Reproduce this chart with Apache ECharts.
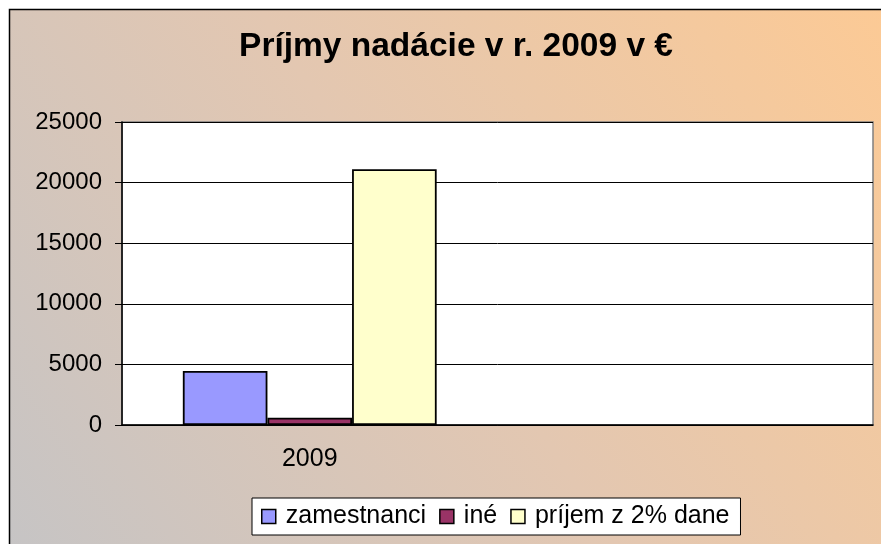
<!DOCTYPE html>
<html><head><meta charset="utf-8">
<script src="https://cdn.jsdelivr.net/npm/echarts@6/dist/echarts.min.js"></script>
<style>html,body{margin:0;padding:0;background:#fff}#c{width:881px;height:544px}</style>
</head><body><div id="c"></div>
<script>
var categories = ["2009", ""];
var seriesNames = ["zamestnanci", "iné", "príjem z 2% dane"];
var zamestnanci = [4450, null];
var ine = [600, null];
var prijem = [21100, null];
var yTicks = [0, 5000, 10000, 15000, 20000, 25000];
var colors = ["#9999FF", "#993366", "#FFFFCC"];

var chart = echarts.init(document.getElementById('c'), null, {renderer: 'canvas'});
var font = '"Liberation Sans", Arial, sans-serif';
var values = [zamestnanci, ine, prijem];
chart.setOption({
  animation: false,
  backgroundColor: '#ffffff',
  graphic: [{
    type: 'rect', z: -10, silent: true,
    shape: {x: 9.5, y: 9.5, width: 900, height: 600},
    style: {
      fill: new echarts.graphic.LinearGradient(1, 0, 0, 1, [
        {offset: 0, color: '#FDCA94'},
        {offset: 0.5, color: '#E3C7B1'},
        {offset: 1, color: '#C4C4C6'}
      ]),
      stroke: '#000', lineWidth: 1.5
    }
  }],
  title: {
    text: 'Príjmy nadácie v r. 2009 v €',
    left: 451, textAlign: 'center', top: 25,
    textStyle: {fontFamily: font, fontSize: 33.5, fontWeight: 'bold', color: '#000'}
  },
  grid: {left: 122, top: 122, right: 8, bottom: 119, show: true, backgroundColor: '#fff', borderColor: '#808080', borderWidth: 1.5},
  legend: {
    left: 252, top: 498,
    itemWidth: 14, itemHeight: 14, itemGap: 13,
    padding: [6, 11, 6, 9],
    backgroundColor: '#fff', borderColor: '#000', borderWidth: 1,
    icon: 'rect',
    itemStyle: {borderColor: '#000', borderWidth: 1.5},
    textStyle: {fontFamily: font, fontSize: 25, color: '#000', padding: [0, 0, 0, 5]},
    data: seriesNames
  },
  xAxis: {
    type: 'category', data: categories,
    axisLine: {lineStyle: {color: '#000', width: 1.5}},
    axisTick: {inside: true, length: 7, lineStyle: {color: '#000'}},
    axisLabel: {fontFamily: font, fontSize: 25, color: '#000', margin: 22}
  },
  yAxis: {
    type: 'value', min: 0, max: 25000, interval: 5000,
    axisLine: {show: true, lineStyle: {color: '#000', width: 1.5}},
    axisTick: {show: true, length: 7, lineStyle: {color: '#000'}},
    axisLabel: {fontFamily: font, fontSize: 24, color: '#000', margin: 20,
      formatter: function (v) { return String(v); }},
    splitLine: {lineStyle: {color: '#000', width: 1}}
  },
  series: seriesNames.map(function (n, i) {
    return {
      name: n, type: 'bar', data: values[i],
      barGap: '0%', barCategoryGap: '32.4%',
      itemStyle: {color: colors[i], borderColor: '#000', borderWidth: 1.8}
    };
  })
});
</script></body></html>
